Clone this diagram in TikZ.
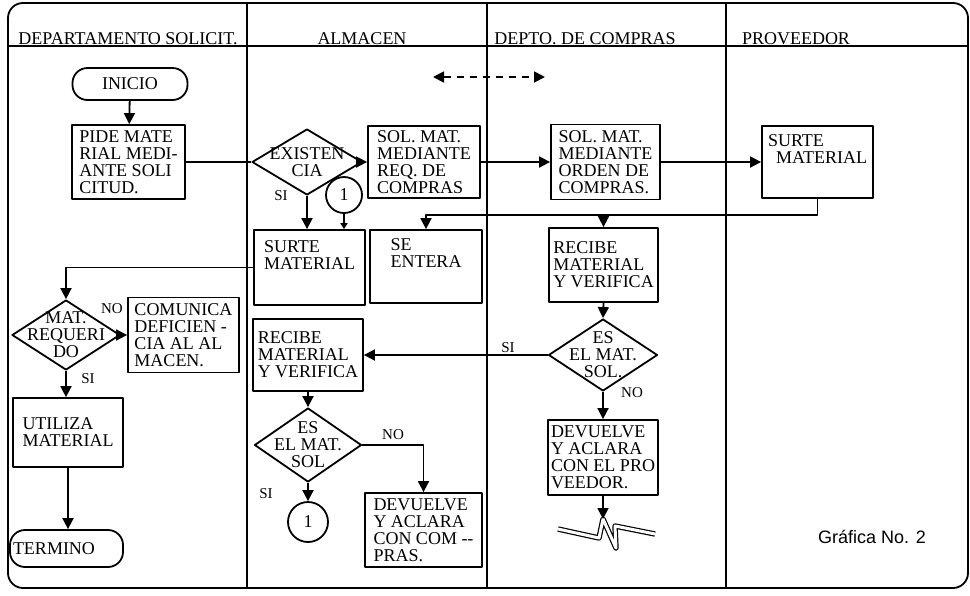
\documentclass[tikz,border=0pt]{standalone}
\usepackage{fontspec}
\setmainfont{Liberation Serif}
\newfontfamily\grafont{Liberation Sans}
\usetikzlibrary{arrows.meta,shapes.geometric}
\tikzset{
  box/.style={draw, rectangle, align=left, inner sep=2pt, font=\fontsize{18}{17}\selectfont},
  sz/.style 2 args={minimum width=#1pt, minimum height=#2pt},
  term/.style={draw, rounded corners=15pt, inner sep=2pt, font=\fontsize{18}{17}\selectfont},
  decis/.style={draw, diamond, inner sep=0pt},
  dtxt/.style={align=center, inner sep=0pt, font=\fontsize{18}{17}\selectfont},
  conn/.style={draw, circle, inner sep=0pt, font=\fontsize{18}{18}\selectfont},
  hdr/.style={anchor=base, inner sep=0pt, font=\fontsize{18}{18}\selectfont},
  tag/.style={inner sep=0pt, font=\fontsize{15}{15}\selectfont},
  flow/.style={->}
}
\begin{document}
\begin{tikzpicture}[x=1pt, y=-1pt, line width=1.8pt, line join=round, >={Triangle[length=11pt,width=11pt]}]
\useasboundingbox (0,0) rectangle (970,595);
% marco y carriles
\draw[rounded corners=15pt] (8,3) rectangle (968,588);
\draw (8,46) -- (968,46);
\foreach \x in {247,487,726} \draw (\x,3) -- (\x,588);
\foreach \x/\nm/\t in {128/h1/DEPARTAMENTO SOLICIT., 362/h2/ALMACEN, 585/h3/DEPTO. DE COMPRAS, 796/h4/PROVEEDOR}
  \node[hdr] (\nm) at (\x,44) {\t};
\coordinate (dl) at (433,77);
\coordinate (dr) at (545,77);
\draw[<->, dash pattern=on 7pt off 6pt] (dl) -- (dr);

% departamento solicitante
\node[term, sz={115}{32}] (inicio) at (130,84) {INICIO};
\node[box, sz={113}{74}] (pide) at (128.5,162) {PIDE MATE\\RIAL MEDI-\\ANTE SOLI\\CITUD.};
\node[decis, sz={108}{70}, label={[dtxt]center:MAT.\\REQUERI\\DO}] (mat) at (66,335) {};
\node[box, sz={111}{75}] (comunica) at (183.5,335) {COMUNICA\\DEFICIEN -\\CIA AL AL\\MACEN.};
\node[box, sz={110}{69}] (utiliza) at (68,432.5) {UTILIZA\\MATERIAL};
\node[term, sz={113}{37}, text width=107pt, align=left] (termino) at (66.5,548.5) {TERMINO};

% almacen
\node[decis, sz={110}{66}, label={[dtxt]center:EXISTEN\\CIA}] (exist) at (307,162) {};
\node[box, sz={112}{72}] (sol1) at (424,162) {SOL. MAT.\\MEDIANTE\\REQ. DE\\COMPRAS};
\node[conn, minimum size=36pt] (c1) at (344,195) {1};
\node[box, sz={111}{75}, text depth=24pt] (surte1) at (309.5,267.5) {SURTE\\MATERIAL};
\node[box, sz={112}{73}, text depth=26pt] (seentera) at (426,266.5) {SE\\ENTERA};
\node[box, sz={110}{72}] (recibe2) at (308,355) {RECIBE\\MATERIAL\\Y VERIFICA};
\node[decis, sz={107}{74}, label={[dtxt]center:ES\\EL MAT.\\SOL}] (essol2) at (308,445) {};
\node[conn, minimum size=40pt] (c2) at (308,522) {1};
\node[box, sz={117}{74}] (devuelve2) at (423.5,530) {DEVUELVE\\Y ACLARA\\CON COM -{}-\\PRAS.};

% compras
\node[box, sz={109}{75}] (sol2) at (605.5,162) {SOL. MAT.\\MEDIANTE\\ORDEN DE\\COMPRAS.};
\node[box, sz={109}{74}] (recibe3) at (603.5,265) {RECIBE\\MATERIAL\\Y VERIFICA};
\node[decis, sz={109}{72}, label={[dtxt]center:ES\\EL MAT.\\SOL.}] (essol3) at (603,355) {};
\node[box, sz={110}{75}] (devuelve3) at (603,457.5) {DEVUELVE\\Y ACLARA\\CON EL PRO\\VEEDOR.};
\coordinate (brk) at (603,519);
\draw[line width=1.2pt, double, double distance=3pt] (558,529) -- (599,538) -- (603,519) -- (616,548) -- (615,526) -- (655,534);

% proveedor
\node[box, sz={111}{72}, text depth=26pt] (surte4) at (817.5,162) {SURTE\\\hspace{8pt}MATERIAL};
\node[font=\grafont\fontsize{18}{18}\selectfont] (graf) at (872,537) {Gráfica No. 2};

% conectores
\coordinate (bus) at (0,215);
\draw[flow] (inicio) -- (pide);
\draw (pide.east) -- (exist.west);
\draw[flow] (exist.east) -- (sol1.west);
\draw[flow] (exist.south) -- (exist.south |- surte1.north);
\draw[flow, >={Triangle[length=6pt,width=7pt]}] (c1.south) -- (c1.south |- surte1.north);
\draw[flow] (sol1.east) -- (sol2.west);
\draw[flow] (sol2.east) -- (surte4.west);
\draw[flow] (surte4.south) |- (seentera.north |- bus) -- (seentera.north);
\draw[flow] (recibe3.north |- bus) -- (recibe3.north);
\draw[flow] (surte1.west) -| (mat.north);
\draw[flow] (mat.east) -- (comunica.west);
\draw[flow] (mat.south) -- (mat.south |- utiliza.north);
\draw[flow] (utiliza.south) -- (utiliza.south |- termino.north);
\draw[flow] (recibe3.south) -- (essol3.north);
\draw[flow] (essol3.west) -- (recibe2.east);
\draw[flow] (essol3.south) -- (devuelve3.north);
\draw[flow] (devuelve3.south) -- (brk);
\draw[flow] (recibe2.south) -- (essol2.north);
\draw[flow] (essol2.east) -| (devuelve2.north);
\draw[flow] (essol2.south) -- (c2.north);

\node[tag] (no1) at (112,309) {NO};
\node[tag] (si1) at (88,379) {SI};
\node[tag] (si2) at (281,196) {SI};
\node[tag] (no2) at (393,435) {NO};
\node[tag] (si3) at (266,494) {SI};
\node[tag] (si4) at (508,348) {SI};
\node[tag] (no3) at (632,393) {NO};
\end{tikzpicture}
\end{document}
